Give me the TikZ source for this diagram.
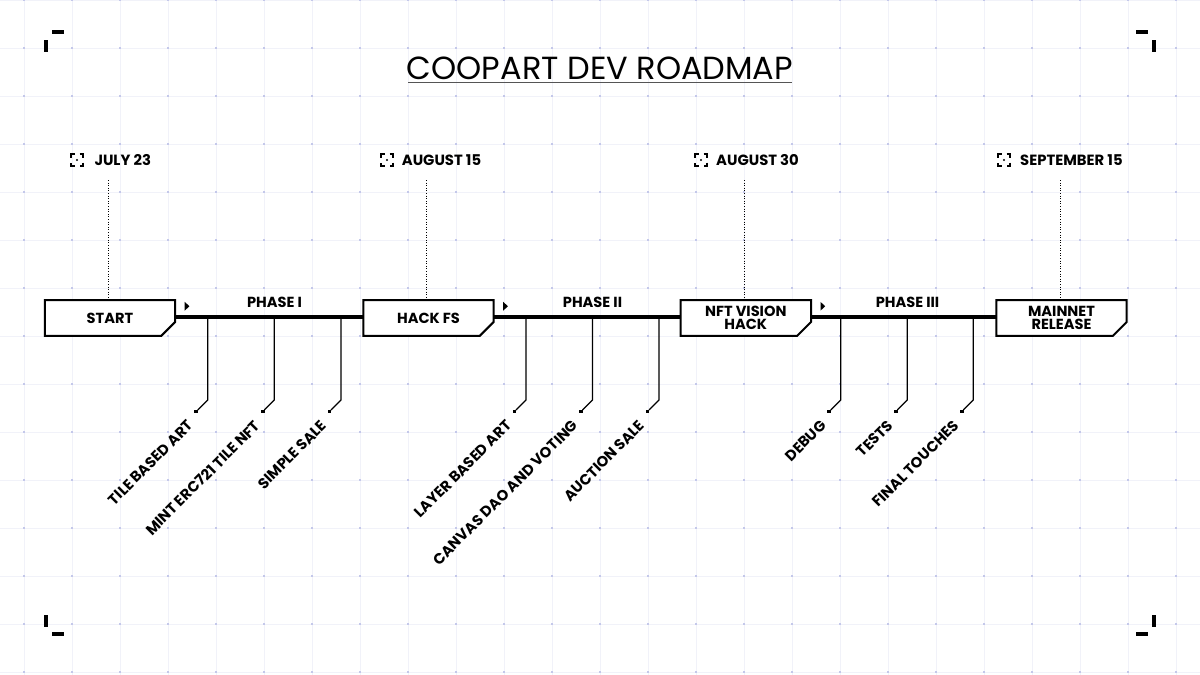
\documentclass[tikz,border=0pt]{standalone}
\usepackage{fontspec}
\setmainfont{Poppins}
\usetikzlibrary{calc}
\definecolor{gridc}{HTML}{F1F2F9}
\definecolor{gdot}{HTML}{C4C8EA}
\definecolor{ulc}{HTML}{555555}
\pgfdeclarelayer{background}
\pgfdeclarelayer{mid}
\pgfsetlayers{background,mid,main}
\tikzset{
  boxlabel/.style={minimum width=130pt, minimum height=35.5pt, inner sep=0pt, align=center,
    font=\fontsize{14.6}{13.5}\selectfont\bfseries},
  boxline/.style={line width=2pt, fill=white, line join=miter},
  timeline/.style={line width=3.6pt},
  leader/.style={line width=1.2pt},
  dotted line/.style={line width=0.9pt, dash pattern=on 1pt off 1.6pt},
  task/.style={rotate=45, inner sep=0pt, font=\fontsize{14.8}{14.8}\selectfont\bfseries},
  datelabel/.style={inner sep=0pt, font=\fontsize{14.8}{14.8}\selectfont\bfseries},
  phaselabel/.style={inner sep=0pt, font=\fontsize{14.6}{14.6}\selectfont\bfseries},
  dotsq/.style={fill, minimum size=3.6pt, inner sep=0pt},
  dateicon/.pic={
    \draw[line width=1.1pt] (-6,-2.5)--(-6,-6)--(-2.5,-6) (2.5,-6)--(6,-6)--(6,-2.5)
      (6,2.5)--(6,6)--(2.5,6) (-2.5,6)--(-6,6)--(-6,2.5);
    \fill (0,0) circle (1.2);
  }
}
\begin{document}
\begin{tikzpicture}[x=1pt, y=-1pt]
\useasboundingbox (0,0) rectangle (1200,675);
\begin{pgfonlayer}{background}
\fill[white] (0,0) rectangle (1200,675);
\foreach \gx in {24,72,...,1176} \draw[gridc, line width=0.8pt] (\gx,0) -- (\gx,675);
\foreach \gy in {0,48,...,672} \draw[gridc, line width=0.8pt] (0,\gy) -- (1200,\gy);
\foreach \gx in {24,72,...,1176} \foreach \gy in {0,48,...,672}
  \fill[gdot] (\gx-0.8,\gy-0.8) rectangle (\gx+0.8,\gy+0.8);
\end{pgfonlayer}
% corner marks
\fill (52,30) rectangle (64,34); \fill (44,40) rectangle (48,52);
\fill (1136,30) rectangle (1148,34); \fill (1152,40) rectangle (1156,52);
\fill (44,615) rectangle (48,627); \fill (52,632) rectangle (64,636);
\fill (1152,615) rectangle (1156,627); \fill (1136,632) rectangle (1148,636);
% title
\node[inner sep=0pt, anchor=base, font=\fontsize{32}{32}\selectfont] (title) at (600,79.5) {COOPART DEV ROADMAP};
\draw[ulc, line width=1pt] (408,82.7) coordinate (ul1) -- (792,82.7) coordinate (ul2);
% milestone boxes
\node[boxlabel] (start) at (110,318) {START};
\node[boxlabel] (hack) at (428.5,318) {HACK FS};
\node[boxlabel] (nft) at (745.8,318) {NFT VISION\\HACK};
\node[boxlabel] (main) at (1061.5,318) {MAINNET\\RELEASE};
\begin{pgfonlayer}{mid}
\draw[timeline] ($(start.east)+(0,-1)$) -- ($(main.west)+(0,-1)$);
\foreach \b in {start,hack,nft,main}{
  \draw[boxline] (\b.north west) -- (\b.north east) -- ($(\b.south east)+(0,-14)$)
    -- ($(\b.south east)+(-14,0)$) -- (\b.south west) -- cycle;
}
\end{pgfonlayer}
% small triangles
\foreach \b in {start,hack,nft}{
  \fill ($(\b.north east)+(9.5,1.8)$) -- ($(\b.north east)+(9.5,10.6)$) -- ($(\b.north east)+(14.2,6.2)$) -- cycle;
}
% dates
\foreach \ix/\tx/\dx/\d/\b/\n in {77/94.3/108.5/JULY 23/start/d1, 387/401.7/426.7/AUGUST 15/hack/d2,
    701/716/744.3/AUGUST 30/nft/d3, 1004/1020/1060.3/SEPTEMBER 15/main/d4}{
  \pic at (\ix,160) {dateicon};
  \node[datelabel, anchor=base west] (\n) at (\tx,165.5) {\d};
  \coordinate (\n-top) at (\dx,180);
  \draw[dotted line] (\n-top) -- (\n-top |- \b.north);
}
% phases
\node[phaselabel, anchor=base] (p1) at (274.5,307.2) {PHASE I};
\node[phaselabel, anchor=base] (p2) at (592.5,307.2) {PHASE II};
\node[phaselabel, anchor=base] (p3) at (907.5,307.2) {PHASE III};
% leaders and tasks
\foreach \x/\t/\n in {207.7/TILE BASED ART/a1, 274.3/MINT ERC721 TILE NFT/a2, 341/SIMPLE SALE/a3,
    526/LAYER BASED ART/b1, 592.5/CANVAS DAO AND VOTING/b2, 659/AUCTION SALE/b3,
    840.7/DEBUG/c1, 907.3/TESTS/c2, 973.3/FINAL TOUCHES/c3}{
  \coordinate (\n-top) at (\x,317);
  \coordinate (\n-bend) at (\x,400);
  \coordinate (\n-end) at (\x-10,410);
  \draw[leader] (\n-top) -- (\n-bend) -- (\n-end);
  \node[dotsq] (\n-dot) at (\x-11.5,411.5) {};
  \node[task, anchor=north east] (\n) at (\x-21,419) {\t};
}
\end{tikzpicture}
\end{document}
